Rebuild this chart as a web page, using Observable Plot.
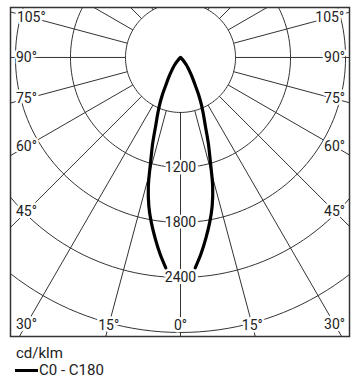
<!DOCTYPE html>
<html>
<head>
<meta charset="utf-8">
<script src="https://cdn.jsdelivr.net/npm/d3@7"></script>
<script src="https://cdn.jsdelivr.net/npm/@observablehq/plot@0.6"></script>
<style>
  html, body { margin: 0; padding: 0; background: #fff; }
  #wrap { position: relative; width: 357px; height: 386px; font-family: Roboto, sans-serif; color: #222; }
  #chart svg { display: block; }
  .lg { position: absolute; left: 16px; font-size: 15px; line-height: 18px; white-space: nowrap; }
  .sw { display: inline-block; width: 23px; height: 3px; background: #000; vertical-align: middle; margin-right: 1px; position: relative; top: -1px; }
</style>
</head>
<body>
<div id="wrap">
  <div id="chart"></div>
  <div class="lg" style="top:344px">cd/klm</div>
  <div class="lg" style="top:361px;left:15px"><span class="sw"></span>C0 - C180</div>
</div>
<script>
// Data (cd/klm)
const gammaDeg = [4, 6, 8, 10, 12, 14, 16, 18, 20, 22, 24, 26, 28, 30, 32, 34, 36, 38, 40, 45, 50];
const c0 =       [2300, 2150, 1990, 1830, 1660, 1450, 1180, 980, 790, 665, 555, 447, 340, 270, 215, 170, 135, 105, 75, 25, 0];
const c180 =     [2300, 2150, 1990, 1830, 1660, 1450, 1180, 980, 790, 665, 555, 447, 340, 270, 215, 170, 135, 105, 75, 25, 0];
const rings = [600, 1200, 1800, 2400, 3000];
const ringLabels = [1200, 1800, 2400];
const gridAngles = [0, 15, 30, 45, 60, 75, 90, 105, 120, 135, 150, 165, 180];
const angleLabels = [0, 15, 30, 45, 60, 75, 90, 105];

const rad = d => d * Math.PI / 180;

// curve: C180 on the left (side -1) from the beam edge up to the centre, then C0 down the right
const curvePts = [];
gammaDeg.forEach((g, i) => curvePts.push({g, I: c180[i], side: -1}));
for (let i = gammaDeg.length - 2; i >= 0; i--) curvePts.push({g: gammaDeg[i], I: c0[i], side: 1});
const cx = d => d.side * d.I * Math.sin(rad(d.g));
const cy = d => -d.I * Math.cos(rad(d.g));

// rings as polylines
const ringPts = [];
rings.forEach(r => { for (let a = 0; a <= 360; a += 2) ringPts.push({r, a}); });

// radial grid lines
const radials = [];
gridAngles.forEach(g => [-1, 1].forEach(s => radials.push({g, s})));

// angle labels where the ray meets the inset box
const LX = 1680, LB = 2924, LT = 436;
const angLab = [];
angleLabels.forEach(g => (g === 0 ? [1] : [-1, 1]).forEach(s => {
  const sn = Math.sin(rad(g)), cs = Math.cos(rad(g));
  let t = Infinity;
  if (sn > 1e-9) t = Math.min(t, LX / sn);
  if (cs > 1e-9) t = Math.min(t, LB / cs);
  if (cs < -1e-9) t = Math.min(t, LT / -cs);
  angLab.push({g, x: s * t * sn, y: -t * cs});
}));

const ink = "#333";
const chart = Plot.plot({
  width: 357,
  height: 340,
  marginLeft: 10, marginRight: 8, marginTop: 7, marginBottom: 4,
  x: {domain: [-1854, 1843], axis: null},
  y: {domain: [-3044, 545], axis: null},
  style: {fontFamily: "Roboto, sans-serif", background: "#fff"},
  marks: [
    Plot.line(ringPts, {x: d => d.r * Math.sin(rad(d.a)), y: d => -d.r * Math.cos(rad(d.a)), z: "r", stroke: ink, strokeWidth: 1, clip: "frame"}),
    Plot.link(radials, {
      x1: d => d.s * 600 * Math.sin(rad(d.g)), y1: d => -600 * Math.cos(rad(d.g)),
      x2: d => d.s * 6000 * Math.sin(rad(d.g)), y2: d => -6000 * Math.cos(rad(d.g)),
      stroke: ink, strokeWidth: 1, clip: "frame"
    }),
    Plot.text(ringLabels, {x: 0, y: d => -d, text: d => String(d), fontSize: 14, fill: "#222", stroke: "white", strokeWidth: 5}),
    Plot.text(angLab, {x: "x", y: "y", text: d => d.g + "°", fontSize: 14, fill: "#222", stroke: "white", strokeWidth: 5}),
    Plot.line(curvePts, {x: cx, y: cy, stroke: "#000", strokeWidth: 3.2, curve: "catmull-rom", strokeLinejoin: "miter", strokeMiterlimit: 10, clip: "frame"}),
    Plot.frame({stroke: "#333", strokeWidth: 1.5})
  ]
});
document.getElementById("chart").append(chart);
</script>
</body>
</html>
